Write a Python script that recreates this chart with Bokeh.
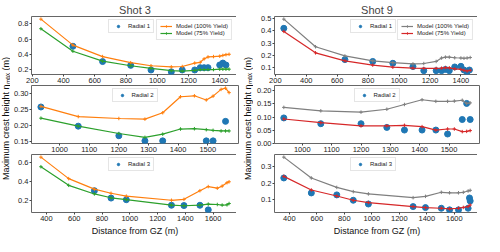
import numpy as np
from bokeh.plotting import figure
from bokeh.models import Range1d, FixedTicker, PrintfTickFormatter, Legend, LegendItem, Label
from bokeh.layouts import row, column
from bokeh.embed import file_html
from bokeh.resources import INLINE

# ---------------- data ----------------
titles = ["Shot 3", "Shot 9"]
radial_labels = ["Radial 1", "Radial 2", "Radial 3"]
model_labels = ["Model (100% Yield)", "Model (75% Yield)"]
xlabel = "Distance from GZ (m)"
ylabel = "Maximum crest height \u03b7\u2098\u2090\u2093 (m)"

# Radial 1
r1_x = [255, 460, 650, 830, 960, 1090, 1160, 1240, 1275, 1300, 1325, 1360, 1400, 1420, 1440, 1460]
s3_r1_m100 = [0.86, 0.52, 0.37, 0.29, 0.25, 0.235, 0.24, 0.285, 0.295, 0.34, 0.365, 0.37, 0.375, 0.385, 0.395, 0.40]
s3_r1_m75 = [0.735, 0.44, 0.31, 0.25, 0.215, 0.185, 0.18, 0.19, 0.20, 0.20, 0.20, 0.20, 0.205, 0.205, 0.205, 0.205]
s3_r1_obs_x = [460, 650, 830, 960, 1090, 1160, 1240, 1275, 1300, 1325, 1400, 1420, 1440]
s3_r1_obs = [0.505, 0.305, 0.255, 0.195, 0.17, 0.195, 0.195, 0.225, 0.225, 0.225, 0.26, 0.285, 0.26]
s9_r1_m100 = [0.495, 0.27, 0.195, 0.155, 0.14, 0.13, 0.133, 0.15, 0.178, 0.185, 0.185, 0.18, 0.178, 0.176, 0.178, 0.182]
s9_r1_m75 = [0.395, 0.22, 0.155, 0.12, 0.103, 0.095, 0.093, 0.093, 0.095, 0.10, 0.098, 0.09, 0.085, 0.078, 0.072, 0.078]
s9_r1_obs_x = [255, 650, 830, 960, 1090, 1160, 1240, 1275, 1300, 1325, 1360, 1400, 1420, 1440, 1455]
s9_r1_obs = [0.42, 0.165, 0.15, 0.135, 0.108, 0.075, 0.075, 0.075, 0.085, 0.075, 0.105, 0.11, 0.08, 0.065, 0.08]

# Radial 2
r2_x = [937, 1063, 1200, 1288, 1348, 1408, 1455, 1495, 1518, 1545, 1560, 1572]
s3_r2_m100 = [0.26, 0.228, 0.222, 0.22, 0.24, 0.29, 0.293, 0.28, 0.292, 0.313, 0.317, 0.303]
s3_r2_m75 = [0.223, 0.198, 0.175, 0.163, 0.173, 0.189, 0.19, 0.187, 0.185, 0.183, 0.183, 0.183]
s3_r2_obs_x = [937, 1063, 1200, 1288, 1348, 1495, 1518, 1560]
s3_r2_obs = [0.258, 0.198, 0.168, 0.152, 0.152, 0.152, 0.152, 0.213]
s9_r2_m100 = [0.137, 0.124, 0.119, 0.13, 0.148, 0.166, 0.16, 0.16, 0.161, 0.164, 0.152, 0.154]
s9_r2_m75 = [0.093, 0.079, 0.067, 0.067, 0.069, 0.064, 0.051, 0.055, 0.055, 0.045, 0.046, 0.049]
s9_r2_obs_x = [937, 1063, 1200, 1288, 1348, 1408, 1455, 1495, 1545, 1560, 1572]
s9_r2_obs = [0.097, 0.075, 0.075, 0.061, 0.051, 0.051, 0.051, 0.036, 0.091, 0.152, 0.091]

# Radial 3
r3_x = [360, 560, 745, 865, 975, 1300, 1390, 1505, 1565, 1630, 1665, 1700, 1715]
s3_r3_m100 = [0.657, 0.433, 0.323, 0.28, 0.25, 0.207, 0.217, 0.307, 0.35, 0.333, 0.355, 0.39, 0.40]
s3_r3_m75 = [0.557, 0.363, 0.273, 0.233, 0.213, 0.157, 0.15, 0.157, 0.167, 0.163, 0.157, 0.16, 0.173]
s3_r3_obs_x = [745, 865, 975, 1300, 1390, 1505, 1565]
s3_r3_obs = [0.307, 0.23, 0.213, 0.155, 0.152, 0.155, 0.107]
s9_r3_m100 = [0.359, 0.231, 0.173, 0.147, 0.133, 0.11, 0.118, 0.143, 0.14, 0.14, 0.143, 0.151, 0.155]
s9_r3_m75 = [0.241, 0.157, 0.12, 0.094, 0.08, 0.055, 0.049, 0.045, 0.041, 0.045, 0.05, 0.055, 0.065]
s9_r3_obs_x = [360, 560, 745, 865, 975, 1300, 1390, 1505, 1565, 1630, 1700, 1710, 1715]
s9_r3_obs = [0.231, 0.139, 0.127, 0.094, 0.071, 0.055, 0.049, 0.045, 0.035, 0.035, 0.045, 0.108, 0.09]

# ticks
r1_xticks = [200, 400, 600, 800, 1000, 1200, 1400]
r2_xticks = [1000, 1100, 1200, 1300, 1400, 1500]
r3_xticks = [400, 600, 800, 1000, 1200, 1400, 1600]
s3_r1_yticks = [0.2, 0.4, 0.6, 0.8]
s3_r2_yticks = [0.15, 0.20, 0.25, 0.30]
s3_r3_yticks = [0.2, 0.4, 0.6]
s9_r1_yticks = [0.1, 0.2, 0.3, 0.4, 0.5]
s9_r2_yticks = [0.00, 0.05, 0.10, 0.15, 0.20]
s9_r3_yticks = [0.1, 0.2, 0.3]

# ---------------- styling ----------------
FONT = "Liberation Sans"
OBS = "#1f77b4"
FRAME_W_L = 207
FRAME_W_R = 205
FRAME_H = 58


def pad_range(vals, frac=0.05):
    lo, hi = min(vals), max(vals)
    d = (hi - lo) * frac
    return lo - d, hi + d


def panel(fw, mx, m100, m75, obs_x, obs_y, rad_label, xticks, yticks, yfmt,
          c100, c75, title=None, with_xlabel=False, model_legend=False, yrange=None):
    xr = pad_range(list(mx) + list(obs_x))
    yr = yrange if yrange is not None else pad_range(list(m100) + list(m75) + list(obs_y))
    p = figure(frame_width=fw, frame_height=FRAME_H, x_range=Range1d(*xr), y_range=Range1d(*yr),
               output_backend="svg", toolbar_location=None, title=title,
               min_border_left=0, min_border_right=3, min_border_top=0, min_border_bottom=0)
    p.grid.visible = False
    p.outline_line_color = "#666666"
    p.outline_line_width = 1
    p.background_fill_color = "white"
    for ax in (p.xaxis[0], p.yaxis[0]):
        ax.axis_line_color = None
        ax.major_tick_line_color = "#444444"
        ax.major_tick_out = 2
        ax.major_tick_in = 0
        ax.minor_tick_line_color = None
        ax.major_label_text_font = FONT
        ax.major_label_text_font_size = "7.5px"
        ax.major_label_text_color = "#222222"
        ax.major_label_standoff = 1
    p.xaxis.ticker = FixedTicker(ticks=xticks)
    p.yaxis.ticker = FixedTicker(ticks=yticks)
    p.xaxis.formatter = PrintfTickFormatter(format="%d")
    p.yaxis.formatter = PrintfTickFormatter(format=yfmt)
    if with_xlabel:
        p.xaxis.axis_label = xlabel
        p.xaxis.axis_label_text_font = FONT
        p.xaxis.axis_label_text_font_size = "9px"
        p.xaxis.axis_label_text_font_style = "normal"
        p.xaxis.axis_label_text_color = "#111111"
        p.xaxis.axis_label_standoff = 2
    if title:
        p.title.text_font = FONT
        p.title.text_font_size = "11px"
        p.title.text_font_style = "normal"
        p.title.align = "center"
        p.title.standoff = 2
        p.title.offset = 0

    r_obs = p.scatter(obs_x, obs_y, size=6, color=OBS, line_color=OBS)
    l1 = p.line(mx, m100, line_color=c100, line_width=1.2)
    s1 = p.scatter(mx, m100, marker="cross", size=3.5, line_color=c100, line_width=1)
    l2 = p.line(mx, m75, line_color=c75, line_width=1.2)
    s2 = p.scatter(mx, m75, marker="cross", size=3.5, line_color=c75, line_width=1)

    def style(lg):
        lg.label_text_font = FONT
        lg.label_text_font_size = "6px"
        lg.label_text_color = "#222222"
        lg.label_height = 6
        lg.glyph_height = 6
        lg.glyph_width = 12
        lg.label_standoff = 4
        lg.spacing = 1
        lg.padding = 3
        lg.margin = 3
        lg.border_line_color = "#cccccc"
        lg.background_fill_alpha = 0.85

    leg1 = Legend(items=[LegendItem(label=rad_label, renderers=[r_obs])], location="top_center")
    style(leg1)
    p.add_layout(leg1)
    if model_legend:
        leg2 = Legend(items=[LegendItem(label=model_labels[0], renderers=[l1, s1]),
                             LegendItem(label=model_labels[1], renderers=[l2, s2])],
                      location="top_right")
        style(leg2)
        p.add_layout(leg2)
    return p


def ylabel_fig(w, h):
    f = figure(width=w, height=h, x_range=Range1d(0, 1), y_range=Range1d(0, 1),
               output_backend="svg", toolbar_location=None,
               min_border=0, outline_line_color=None)
    f.axis.visible = False
    f.grid.visible = False
    f.add_layout(Label(x=0.5, y=0.5, text=ylabel, angle=np.pi / 2, text_align="center",
                       text_baseline="middle", text_font=FONT, text_font_size="9px",
                       text_color="#111111"))
    return f


ORANGE, GREEN, GRAY, RED = "#ff7f0e", "#2ca02c", "#7f7f7f", "#d62728"

L1 = panel(FRAME_W_L, r1_x, s3_r1_m100, s3_r1_m75, s3_r1_obs_x, s3_r1_obs, radial_labels[0],
           r1_xticks, s3_r1_yticks, "%.1f", ORANGE, GREEN, title=titles[0], model_legend=True)
L2 = panel(FRAME_W_L, r2_x, s3_r2_m100, s3_r2_m75, s3_r2_obs_x, s3_r2_obs, radial_labels[1],
           r2_xticks, s3_r2_yticks, "%.2f", ORANGE, GREEN)
L3 = panel(FRAME_W_L, r3_x, s3_r3_m100, s3_r3_m75, s3_r3_obs_x, s3_r3_obs, radial_labels[2],
           r3_xticks, s3_r3_yticks, "%.1f", ORANGE, GREEN, with_xlabel=True)
R1 = panel(FRAME_W_R, r1_x, s9_r1_m100, s9_r1_m75, s9_r1_obs_x, s9_r1_obs, radial_labels[0],
           r1_xticks, s9_r1_yticks, "%.1f", GRAY, RED, title=titles[1], model_legend=True)
R2 = panel(FRAME_W_R, r2_x, s9_r2_m100, s9_r2_m75, s9_r2_obs_x, s9_r2_obs, radial_labels[1],
           r2_xticks, s9_r2_yticks, "%.2f", GRAY, RED, yrange=(0.0, 0.22))
R3 = panel(FRAME_W_R, r3_x, s9_r3_m100, s9_r3_m75, s9_r3_obs_x, s9_r3_obs, radial_labels[2],
           r3_xticks, s9_r3_yticks, "%.1f", GRAY, RED, with_xlabel=True)

H = 236
layout = row(ylabel_fig(10, H), column(L1, L2, L3), ylabel_fig(12, H), column(R1, R2, R3))

open("out.html", "w").write(file_html(layout, INLINE))
